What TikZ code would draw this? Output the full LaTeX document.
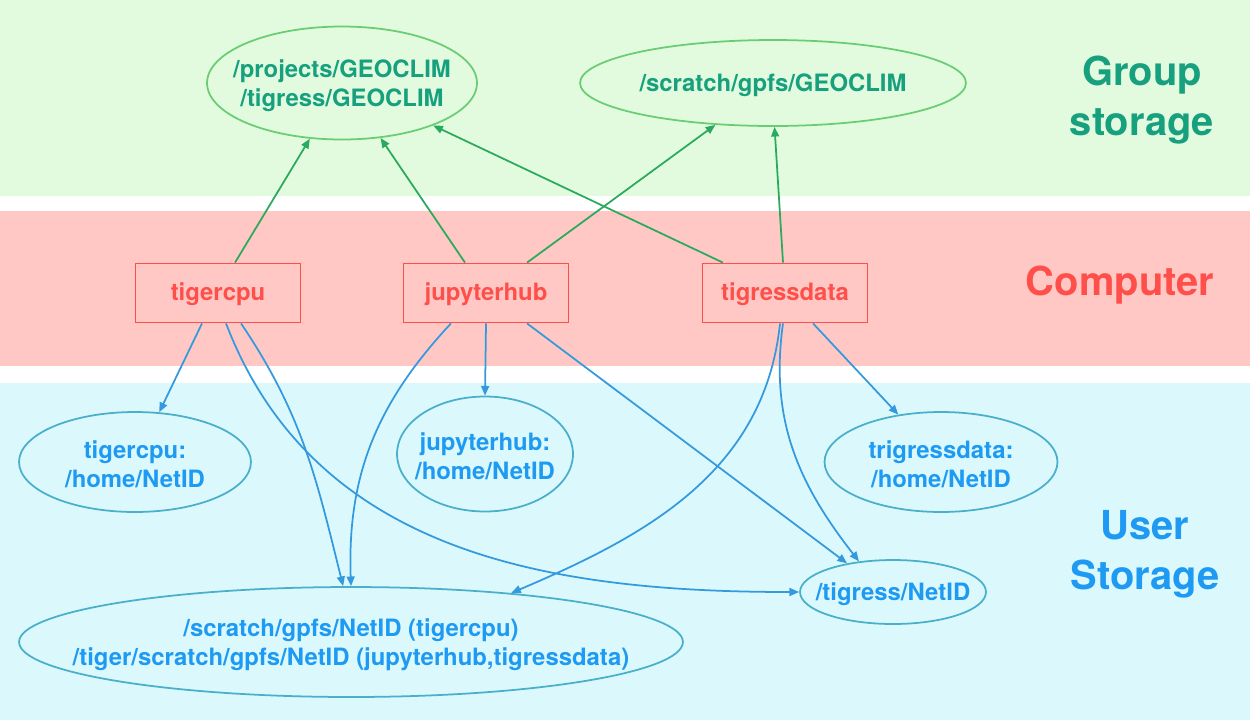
\documentclass[tikz,border=0pt]{standalone}
\usepackage{fontspec}
\setmainfont{TeX Gyre Heros}
\usepackage{xcolor}
\usepackage{tikz}
\usetikzlibrary{shapes.geometric, arrows.meta, calc}
\definecolor{band_green}{HTML}{E2FBDF}
\definecolor{band_red}{HTML}{FFC8C5}
\definecolor{band_blue}{HTML}{DBF9FD}
\definecolor{grp_text}{HTML}{16A07E}
\definecolor{grp_line}{HTML}{6ACD73}
\definecolor{grp_arrow}{HTML}{2AAA5C}
\definecolor{cmp_red}{HTML}{FF4F4A}
\definecolor{usr_text}{HTML}{1E9AF2}
\definecolor{usr_line}{HTML}{4AAFCB}
\definecolor{usr_arrow}{HTML}{3599DE}

\begin{document}
\begin{tikzpicture}[x=0.02cm, y=-0.02cm,
    grpell/.style={ellipse, draw=grp_line, line width=1pt, inner sep=0pt},
    usrell/.style={ellipse, draw=usr_line, line width=1pt, inner sep=0pt},
    grptxt/.style={text=grp_text, font=\fontsize{13.6}{16.4}\selectfont\bfseries, align=center, yshift=-1.5pt},
    usrtxt/.style={text=usr_text, font=\fontsize{13.6}{16.4}\selectfont\bfseries, align=center, yshift=-1.5pt},
    computer/.style={rectangle, draw=cmp_red, line width=1pt, text=cmp_red, text height=1.9ex, text depth=0.25ex,
        font=\fontsize{13.6}{16.4}\selectfont\bfseries, minimum width=3.3cm, minimum height=1.18cm},
    grparr/.style={-{Triangle[length=5.5pt,width=4.5pt]}, line width=1pt, grp_arrow},
    usrarr/.style={-{Triangle[length=5.5pt,width=4.5pt]}, line width=1pt, usr_arrow},
    title/.style={font=\fontsize{22.7}{28.3}\selectfont\bfseries, align=center}]
    \useasboundingbox (0,0) rectangle (1250,721);

    % Draw background bands
    \fill[band_green] (0,0) rectangle (1250,196);
    \fill[band_red] (0,211) rectangle (1250,366);
    \fill[band_blue] (0,383) rectangle (1250,720);

    % Band titles
    \node[title, text=grp_text] (t_group) at (1142,100) {Group\\storage};
    \node[title, text=cmp_red] (t_comp) at (1120,285) {Computer};
    \node[title, text=usr_text] (t_user) at (1145,554) {User\\Storage};

    % Group storage
    \node[grpell, minimum width=5.4cm, minimum height=2.26cm] (proj) at (342,83) {};
    \node[grptxt] (proj_txt) at (proj) {/projects/GEOCLIM\\/tigress/GEOCLIM};
    \node[grpell, minimum width=7.72cm, minimum height=1.72cm] (scrgrp) at (773,83) {};
    \node[grptxt] (scrgrp_txt) at (scrgrp) {/scratch/gpfs/GEOCLIM};

    % Computers
    \node[computer] (tigercpu) at (218,293) {tigercpu};
    \node[computer] (jupyterhub) at (486,293) {jupyterhub};
    \node[computer] (tigressdata) at (785,293) {tigressdata};

    % User storage
    \node[usrell, minimum width=4.64cm, minimum height=2cm] (cpuhome) at (135,462) {};
    \node[usrtxt] (cpuhome_txt) at (cpuhome) {tigercpu:\\/home/NetID};
    \node[usrell, minimum width=3.52cm, minimum height=2.3cm] (juphome) at (485,454) {};
    \node[usrtxt] (juphome_txt) at (juphome) {jupyterhub:\\/home/NetID};
    \node[usrell, minimum width=4.66cm, minimum height=2cm] (datahome) at (941,462) {};
    \node[usrtxt] (datahome_txt) at (datahome) {trigressdata:\\/home/NetID};
    \node[usrell, minimum width=3.72cm, minimum height=1.28cm] (tignet) at (893,592) {};
    \node[usrtxt] (tignet_txt) at (tignet) {/tigress/NetID};
    \node[usrell, minimum width=13.28cm, minimum height=2.2cm] (scrnet) at (351,642) {};
    \node[usrtxt] (scrnet_txt) at (scrnet) {/scratch/gpfs/NetID (tigercpu)\\/tiger/scratch/gpfs/NetID (jupyterhub,tigressdata)};

    % Arrows up to group storage
    \draw[grparr] ($(tigercpu.north)+(17,0)$) -- (proj.-120);
    \draw[grparr] ($(jupyterhub.north)+(-21,0)$) -- (proj.-55);
    \draw[grparr] ($(tigressdata.north)+(-62,0)$) -- (proj.-25);
    \draw[grparr] ($(jupyterhub.north)+(41,0)$) -- (scrgrp.-144);
    \draw[grparr] ($(tigressdata.north)+(-2,0)$) -- (scrgrp.-88);

    % Arrows down to user storage
    \draw[usrarr] ($(tigercpu.south)+(-16,0)$) -- (cpuhome.64);
    \draw[usrarr] ($(tigercpu.south)+(8,0)$) to[out=-69, in=180] (tignet.west);
    \draw[usrarr] ($(tigercpu.south)+(23,0)$) to[out=-56, in=104] (scrnet.98);
    \draw[usrarr] (jupyterhub.south) -- (juphome.north);
    \draw[usrarr] ($(jupyterhub.south)+(-35,0)$) to[out=-133, in=92] (scrnet.90);
    \draw[usrarr] ($(jupyterhub.south)+(41,0)$) -- (tignet.148);
    \draw[usrarr] ($(tigressdata.south)+(28,0)$) -- (datahome.132);
    \draw[usrarr] ($(tigressdata.south)+(-5,0)$) to[out=-96, in=23] (scrnet.17);
    \draw[usrarr] ($(tigressdata.south)+(-2,0)$) to[out=-98, in=128] (tignet.138);
\end{tikzpicture}
\end{document}
